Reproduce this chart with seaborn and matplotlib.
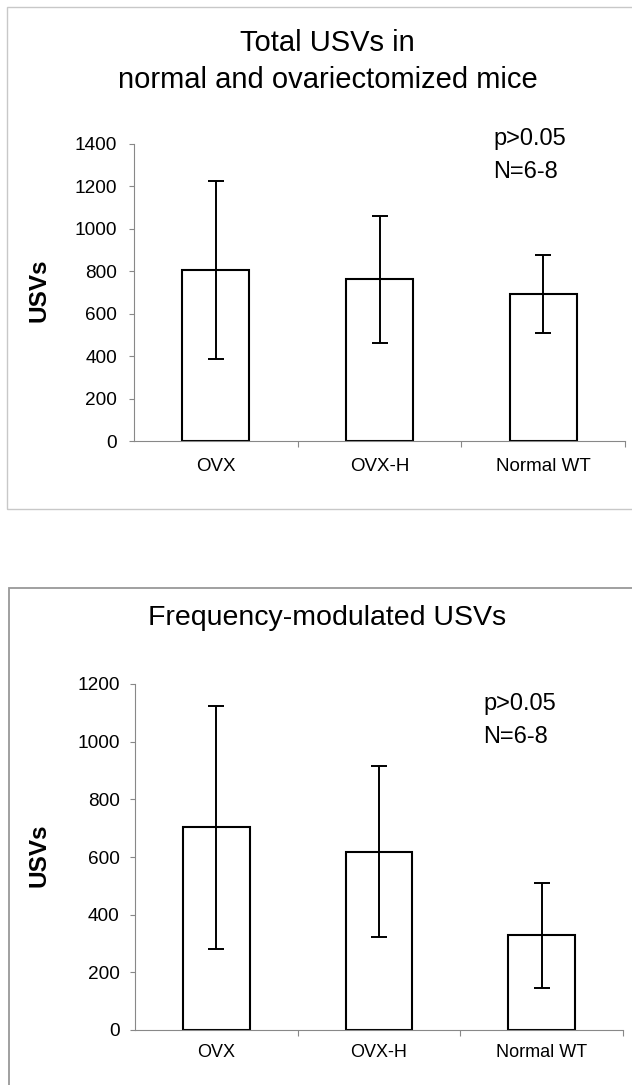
import numpy as np
import matplotlib
matplotlib.use("Agg")
import matplotlib.pyplot as plt
from matplotlib.patches import Rectangle
from matplotlib.ticker import FixedLocator
import seaborn as sns

# ---- data ----
categories = ["OVX", "OVX-H", "Normal WT"]
total_means = [806, 762, 693]
total_errs = [420, 298, 184]
fm_means = [703, 618, 329]
fm_errs = [422, 296, 182]
total_ticks = [0, 200, 400, 600, 800, 1000, 1200, 1400]
fm_ticks = [0, 200, 400, 600, 800, 1000, 1200]
title_top = "Total USVs in\nnormal and ovariectomized mice"
title_bottom = "Frequency-modulated USVs"
stats_text = "p>0.05\nN=6-8"
ylabel = "USVs"

sns.set_style("white")
plt.rcParams["font.family"] = ["Liberation Sans", "DejaVu Sans"]
plt.rcParams["text.color"] = "black"
plt.rcParams["axes.labelcolor"] = "black"
plt.rcParams["xtick.color"] = "black"
plt.rcParams["ytick.color"] = "black"

W, H = 632, 1085
fig = plt.figure(figsize=(W / 100, H / 100), dpi=100)


def fx(px):
    return px / W


def fy(py):
    return 1 - py / H


# panel frames
fig.patches.append(Rectangle((fx(7), fy(509)), 1.1, fy(7) - fy(509),
                             transform=fig.transFigure, fill=False,
                             edgecolor="#c8c8c8", linewidth=1.0))
fig.patches.append(Rectangle((fx(8.5), -0.1), 1.1, fy(588) + 0.1,
                             transform=fig.transFigure, fill=False,
                             edgecolor="#999999", linewidth=1.3))


def panel(rect, means, errs, ticks, ylab_xy, tick_fs, cat_fs, cat_pad, ypad):
    ax = fig.add_axes(rect)
    sns.barplot(x=categories, y=means, ax=ax, color="white", saturation=1,
                edgecolor="black", linewidth=1.5, width=0.41, errorbar=None)
    pos = np.arange(len(categories))
    ax.errorbar(pos, means, yerr=errs, fmt="none", ecolor="black",
                elinewidth=1.4, capsize=6.1, capthick=1.4, zorder=5)
    ax.set_xlim(-0.5, len(categories) - 0.5)
    ax.set_ylim(ticks[0], ticks[-1])
    ax.set_yticks(ticks)
    ax.set_yticklabels([str(t) for t in ticks], fontsize=tick_fs)
    ax.set_xticks(pos)
    ax.set_xticklabels(categories, fontsize=cat_fs)
    ax.xaxis.set_minor_locator(FixedLocator(list(pos + 0.5)))
    ax.tick_params(axis="x", which="major", length=0, pad=cat_pad,
                   labelcolor="black")
    ax.tick_params(axis="x", which="minor", length=4, width=0.8, color="#888888",
                   direction="out", bottom=True)
    ax.tick_params(axis="y", length=3.5, width=0.8, color="#888888",
                   direction="out", left=True, pad=ypad, labelcolor="black")
    for s in ["top", "right"]:
        ax.spines[s].set_visible(False)
    for s in ["left", "bottom"]:
        ax.spines[s].set_color("#888888")
        ax.spines[s].set_linewidth(0.8)
    ax.set_xlabel("")
    ax.set_ylabel(ylabel, fontsize=17.5, fontweight="bold", color="black")
    ax.yaxis.set_label_coords(*ylab_xy)
    ax.set_facecolor("none")
    ax.grid(False)
    return ax


ax1 = panel([fx(134), fy(441), fx(625) - fx(134), fy(144) - fy(441)],
            total_means, total_errs, total_ticks, (-0.171, 0.508),
            13.7, 13.5, 12, 8.5)
ax2 = panel([fx(135), fy(1030), fx(623) - fx(135), fy(684) - fy(1030)],
            fm_means, fm_errs, fm_ticks, (-0.174, 0.506),
            13.7, 13, 10, 7.5)

fig.text(0.518, fy(61.5), title_top, ha="center", va="center", fontsize=21,
         linespacing=1.4, color="black")
fig.text(0.518, fy(618), title_bottom, ha="center", va="center", fontsize=20.5,
         color="black")
fig.text(fx(493), fy(155.5), stats_text, ha="left", va="center", fontsize=17,
         linespacing=1.65, color="black")
fig.text(fx(483), fy(720.5), stats_text, ha="left", va="center", fontsize=17,
         linespacing=1.65, color="black")

fig.savefig("out.png", dpi=100, facecolor="white")
